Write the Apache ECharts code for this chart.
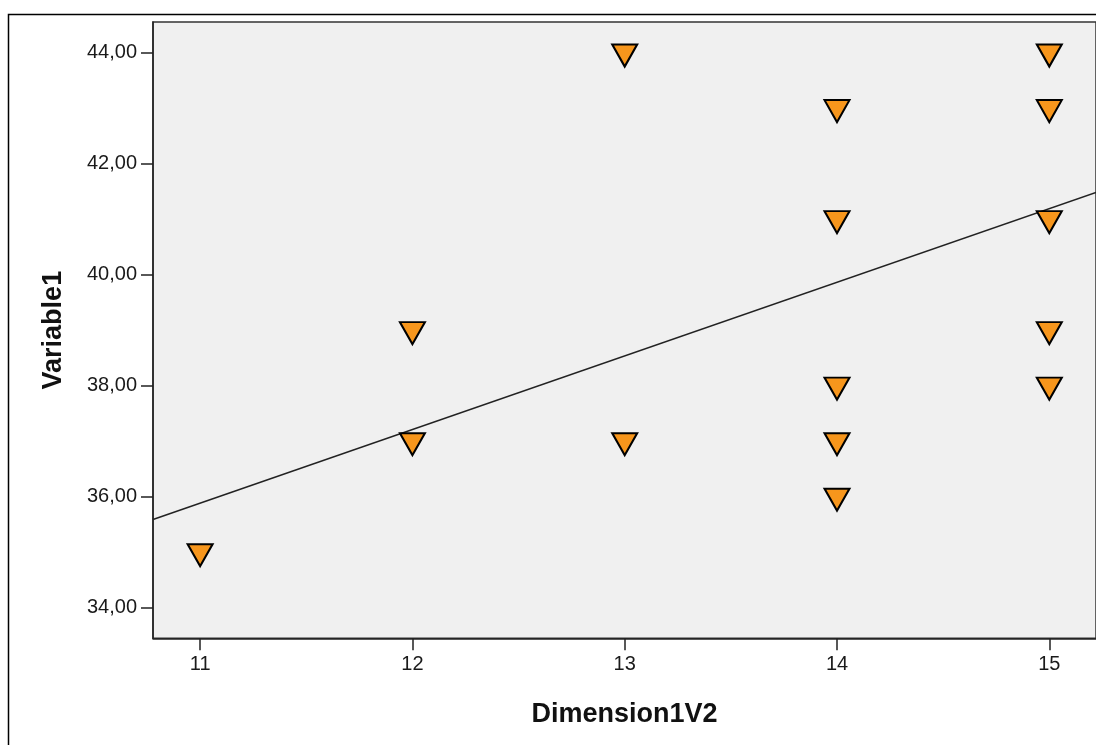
<!DOCTYPE html>
<html>
<head>
<meta charset="utf-8">
<script src="https://cdn.jsdelivr.net/npm/echarts@6/dist/echarts.min.js"></script>
<style>
html,body{margin:0;padding:0;background:#fff;}
#c{width:1096px;height:745px;}
</style>
</head>
<body>
<div id="c"></div>
<script>
// Data
const xValues = [11, 12, 12, 13, 13, 14, 14, 14, 14, 14, 15, 15, 15, 15, 15];
const yValues = [35, 39, 37, 44, 37, 43, 41, 38, 37, 36, 44, 43, 41, 39, 38];
// Fit line endpoints
const fitX = [10.778, 15.22];
const fitY = [35.59, 41.48];
const xTicks = [11, 12, 13, 14, 15];
const yTicks = [34, 36, 38, 40, 42, 44];
const xTitle = 'Dimension1V2';
const yTitle = 'Variable1';

const points = xValues.map((x, i) => [x, yValues[i]]);
const fitLine = fitX.map((x, i) => [x, fitY[i]]);

const chart = echarts.init(document.getElementById('c'), null, {renderer: 'canvas'});
const font = 'Liberation Sans, Arial, sans-serif';
chart.setOption({
  animation: false,
  backgroundColor: '#fff',
  grid: {
    left: 153, top: 22, width: 946.6, height: 616.3,
    show: true, backgroundColor: '#F0F0F0', borderColor: '#333', borderWidth: 1.5
  },
  graphic: [{
    type: 'rect', x: 0, y: 0, shape: {x: 8.5, y: 14.5, width: 1200, height: 900},
    style: {fill: 'none', stroke: '#000', lineWidth: 1.5}, z: 100, silent: true
  }],
  xAxis: {
    type: 'value', min: 10.778, max: 15.22,
    name: xTitle, nameLocation: 'middle', nameGap: 63,
    nameTextStyle: {fontFamily: font, fontWeight: 'bold', fontSize: 27, color: '#111'},
    axisLine: {show: true, lineStyle: {color: '#222', width: 1.5}},
    axisTick: {show: true, customValues: xTicks, length: 12, lineStyle: {color: '#222', width: 1.5}},
    axisLabel: {customValues: xTicks, margin: 16, fontFamily: font, fontSize: 20, color: '#1a1a1a',
      formatter: v => String(v)},
    splitLine: {show: false}
  },
  yAxis: {
    type: 'value', min: 33.45, max: 44.55,
    name: yTitle, nameLocation: 'middle', nameGap: 86, nameRotate: 90,
    nameTextStyle: {fontFamily: font, fontWeight: 'bold', fontSize: 27, color: '#111'},
    axisLine: {show: true, lineStyle: {color: '#222', width: 1.5}},
    axisTick: {show: true, customValues: yTicks, length: 12, lineStyle: {color: '#222', width: 1.5}},
    axisLabel: {customValues: yTicks, margin: 16, fontFamily: font, fontSize: 20, color: '#1a1a1a',
      formatter: v => v.toFixed(2).replace('.', ',')},
    splitLine: {show: false}
  },
  series: [{
    type: 'line', data: fitLine, symbol: 'none', silent: true,
    lineStyle: {color: '#222', width: 1.5}, z: 2
  }, {
    type: 'scatter', data: points,
    symbol: 'path://M0,0L25,0L12.5,22Z', symbolSize: [25, 22], symbolOffset: [0, 3],
    itemStyle: {color: '#F7961C', borderColor: '#000', borderWidth: 2, opacity: 1}, z: 3
  }]
});
</script>
</body>
</html>
